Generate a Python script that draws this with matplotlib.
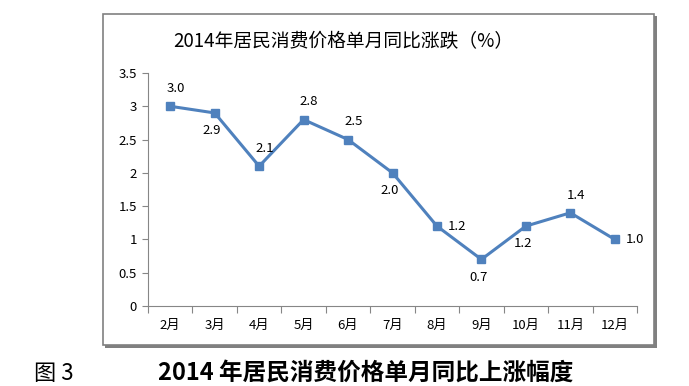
import matplotlib
matplotlib.use("Agg")
import matplotlib.pyplot as plt
from matplotlib.patches import Rectangle

plt.rcParams['font.family'] = ['Noto Sans CJK SC', 'DejaVu Sans']

months = ['2月', '3月', '4月', '5月', '6月', '7月', '8月', '9月', '10月', '11月', '12月']
values = [3.0, 2.9, 2.1, 2.8, 2.5, 2.0, 1.2, 0.7, 1.2, 1.4, 1.0]
label_pos = ['above', 'below', 'above', 'above', 'above', 'below', 'right', 'below', 'below', 'above', 'right']
yticks = [0, 0.5, 1, 1.5, 2, 2.5, 3, 3.5]
ytick_labels = ['0', '0.5', '1', '1.5', '2', '2.5', '3', '3.5']
title = '2014年居民消费价格单月同比涨跌（%）'
caption_left = '图 3'
caption = '2014 年居民消费价格单月同比上涨幅度'

W, H = 689, 386
fig = plt.figure(figsize=(W / 100, H / 100), dpi=100)

# chart frame with shadow-like thicker right/bottom edges
frame_color = '#808080'
fig.add_artist(Rectangle((105 / W, 1 - 348 / H), 552 / W, 332 / H, transform=fig.transFigure,
                         facecolor=frame_color, edgecolor='none', zorder=0))
fig.add_artist(Rectangle((103 / W, 1 - 345 / H), 551 / W, 331 / H, transform=fig.transFigure,
                         facecolor='white', edgecolor=frame_color, linewidth=1.2, zorder=0.5))

ax = fig.add_axes([148 / W, 1 - 306 / H, (637 - 148) / W, (306 - 73) / H])
ax.set_zorder(2)
ax.patch.set_alpha(0)
x = list(range(len(months)))
ax.plot(x, values, color='#4F81BD', linewidth=2.2, marker='s', markersize=5.5,
        markerfacecolor='#4F81BD', markeredgecolor='#4F81BD', zorder=3)

fs = 9.5
for xi, v, p in zip(x, values, label_pos):
    txt = f'{v:.1f}'
    if p == 'above':
        ax.annotate(txt, (xi, v), xytext=(4, 8), textcoords='offset points', ha='center', va='bottom', fontsize=fs)
    elif p == 'below':
        ax.annotate(txt, (xi, v), xytext=(-2, -8), textcoords='offset points', ha='center', va='top', fontsize=fs)
    else:
        ax.annotate(txt, (xi, v), xytext=(8, 0), textcoords='offset points', ha='left', va='center', fontsize=fs)

ax.set_xlim(-0.5, len(months) - 0.5)
ax.set_ylim(0, 3.5)
ax.set_yticks(yticks)
ax.set_yticklabels(ytick_labels, fontsize=fs)
ax.set_xticks([i - 0.5 for i in range(len(months) + 1)], minor=False)
ax.set_xticklabels([])
ax.set_xticks(x, minor=True)
ax.set_xticklabels(months, minor=True, fontsize=fs)
ax.tick_params(axis='x', which='minor', length=0, pad=9)
ax.tick_params(axis='x', which='major', length=5, color='#868686', direction='out')
ax.tick_params(axis='y', length=4, color='#868686', direction='out', pad=4)
for s in ['top', 'right']:
    ax.spines[s].set_visible(False)
for s in ['left', 'bottom']:
    ax.spines[s].set_color('#868686')
    ax.spines[s].set_linewidth(0.8)

fig.text(343 / W, 1 - 42 / H, title, ha='center', va='center', fontsize=13.5)
fig.text(54 / W, 1 - 373 / H, caption_left, ha='center', va='center', fontsize=16)
fig.text(366 / W, 1 - 373 / H, caption, ha='center', va='center', fontsize=17, fontweight='bold')

fig.savefig('out.png', dpi=100)
